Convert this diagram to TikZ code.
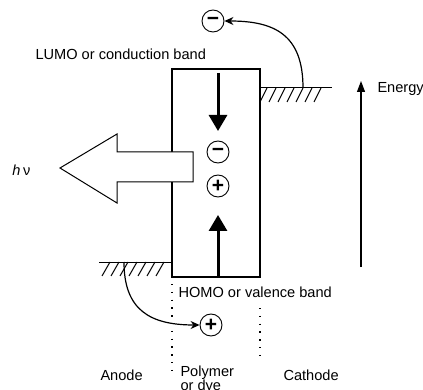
\documentclass[tikz,border=0pt]{standalone}
\usepackage{fontspec}
\setmainfont{Liberation Sans}
\usetikzlibrary{positioning, arrows.meta, calc}

\begin{document}
\begin{tikzpicture}[x=1pt, y=-1pt, line width=1pt, font=\fontsize{14.6}{14}\selectfont,
    ladung/.style={draw, circle, line width=0.9pt, minimum size=22pt, inner sep=0pt,
        font=\fontsize{21}{21}\selectfont\bfseries},
    dick/.style={line width=3pt, -{Triangle[width=18pt, length=16pt]}},
    duenn/.style={line width=1.2pt, -{Stealth[width=8pt, length=9pt]}},
    beschriftung/.style={anchor=base west, inner sep=0pt}]
    % Bildgroesse wie Vorlage
    \useasboundingbox (0,0) rectangle (423,390);

    % --- 1. POLYMER (Kasten mit Baendern) ---
    \draw[line width=1.2pt] (172,69) rectangle (260,277);
    \node[ladung] (minusbox) at (218,152) {−};
    \node[ladung] (plusbox) at (218,186) {+};
    \draw[dick] (218,73) -- (218,131);
    \draw[dick] (218,277) -- (218,215);

    % Lichtpfeil (hohl, deckt die Kastenkante ab)
    \draw[fill=white] (193,152) -- (117,152) -- (117,134) -- (60,168)
        -- (117,203) -- (117,182) -- (193,182) -- cycle;
    \node[beschriftung] (hnu) at (12,176) {\textit{h}\,ν};

    % --- 2. KATHODE ---
    \draw (260,88) -- (332,88);
    \foreach \x in {267,276,...,321}
        \draw (\x,88) -- ++(-7,14);
    \coordinate (kathode) at (303,88);
    \node[ladung] (minusout) at (213,21) {−};
    \draw[duenn] (kathode) .. controls (303,35) and (275,21) .. (minusout.east);

    % --- 3. ANODE ---
    \draw (99,262) -- (172,262);
    \foreach \x in {110,119,...,164}
        \draw (\x,262) -- ++(-8,14);
    \coordinate (anode) at (124,262);
    \node[ladung] (plusout) at (211,325) {+};
    \draw[duenn] (anode) .. controls (124,310) and (150,325) .. (plusout.west);

    % Trennlinien (gepunktet)
    \draw[line width=1.4pt, dash pattern=on 1.3pt off 6.5pt] (172,284) -- (172,372);
    \draw[line width=1.4pt, dash pattern=on 1.3pt off 6.5pt] (260,308) -- (260,362);

    % --- 4. ENERGIEACHSE ---
    \coordinate (eunten) at (361,267);
    \coordinate (eoben) at (361,81);
    \draw[duenn, -{Triangle[width=8pt, length=11pt]}] (eunten) -- (eoben);

    % --- BESCHRIFTUNGEN ---
    \node[beschriftung] (lumo) at (35,60) {LUMO or conduction band};
    \node[beschriftung] (homo) at (178,297) {HOMO or valence band};
    \node[beschriftung] (energie) at (377,93) {Energy};
    \node[beschriftung] (anodetext) at (100,380) {Anode};
    \node[beschriftung] (kathodetext) at (283,380) {Cathode};
    \node[beschriftung, align=left] (polymer) at (180,390) {Polymer\\or dye};
\end{tikzpicture}
\end{document}
